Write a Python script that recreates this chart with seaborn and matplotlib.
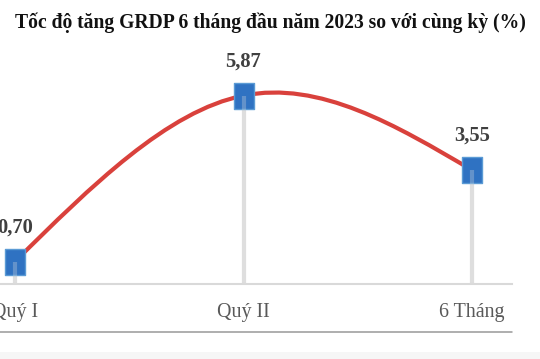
import numpy as np
import pandas as pd
import matplotlib
matplotlib.use("Agg")
import matplotlib.pyplot as plt
from matplotlib.path import Path
from matplotlib.patches import PathPatch, Rectangle
from matplotlib.lines import Line2D
import seaborn as sns

categories = ["Quý I", "Quý II", "6 Tháng"]
values = [0.70, 5.87, 3.55]
value_labels = ["0,70", "5,87", "3,55"]
title = "Tốc độ tăng GRDP 6 tháng đầu năm 2023 so với cùng kỳ (%)"

sns.set_theme(style="white")
plt.rcParams['font.family'] = ['Liberation Serif', 'DejaVu Serif']

W, H = 540, 359
fig = plt.figure(figsize=(W / 100, H / 100), dpi=100)
fig.add_artist(Rectangle((0, 0), 1, 7 / H, transform=fig.transFigure,
                         facecolor="#f6f6f6", edgecolor="none", zorder=0))
ax = fig.add_axes([0, 1 - 284 / H, 512 / W, 224.7 / H])

df = pd.DataFrame({"cat": categories, "x": np.arange(len(categories)), "v": values})

# drop lines
ax.vlines(df["x"], 0, df["v"], color="#dedede", lw=3, zorder=1)

# smooth curve (Bezier, natural end conditions)
xs = df["x"].to_numpy(float)
ys = df["v"].to_numpy(float)
P = np.column_stack([xs, ys])
n = len(P)
verts = [tuple(P[0])]
codes = [Path.MOVETO]
for i in range(n - 1):
    p1, p2 = P[i], P[i + 1]
    c1 = p1 + (P[i + 1] - P[i - 1]) / 6 if i > 0 else None
    c2 = p2 - (P[i + 2] - P[i]) / 6 if i + 2 < n else None
    if c1 is None:
        c1 = (p1 + c2) / 2
    if c2 is None:
        c2 = (p2 + c1) / 2
    verts += [tuple(c1), tuple(c2), tuple(p2)]
    codes += [Path.CURVE4] * 3
ax.add_patch(PathPatch(Path(verts, codes), fill=False, edgecolor="#d9413c",
                       lw=3.0, capstyle="round", zorder=2))

rect = Path([(-0.4, -0.5), (0.4, -0.5), (0.4, 0.5), (-0.4, 0.5), (-0.4, -0.5)],
            [Path.MOVETO, Path.LINETO, Path.LINETO, Path.LINETO, Path.CLOSEPOLY])
sns.scatterplot(data=df, x="x", y="v", marker=rect, s=330, color="#2f72c2",
                edgecolor="#5b9bd5", linewidth=1, zorder=3, ax=ax, legend=False)
ax.vlines(df["x"], 0, df["v"], color="#dedede", lw=3, alpha=0.3, zorder=4)

for xv, yv, lab in zip(xs, ys, value_labels):
    ax.annotate(lab, (xv, yv), xytext=(0, 24.5), textcoords="offset points",
                ha="center", va="center", fontsize=14.8, fontweight="bold",
                color="#404040")

ax.set_xlim(-15 / 228.5, 497 / 228.5)
ax.set_ylim(0, 7)
ax.set_xticks(xs)
ax.set_xticklabels(categories, fontsize=14.4, color="#595959")
ax.tick_params(axis="x", length=0, pad=14)
ax.set_yticks([])
ax.set_xlabel("")
ax.set_ylabel("")
for s in ["top", "right", "left"]:
    ax.spines[s].set_visible(False)
ax.spines["bottom"].set_color("#d9d9d9")
ax.spines["bottom"].set_linewidth(1.5)
ax.patch.set_alpha(0)

fig.add_artist(Line2D([0, 512 / W], [1 - 331.5 / H] * 2, color="#999999", lw=1.1))

fig.text(0.5, 1 - 23 / H, title, ha="center", va="center", fontsize=14.1,
         fontweight="bold", color="#111111")

fig.savefig("out.png", dpi=100)
